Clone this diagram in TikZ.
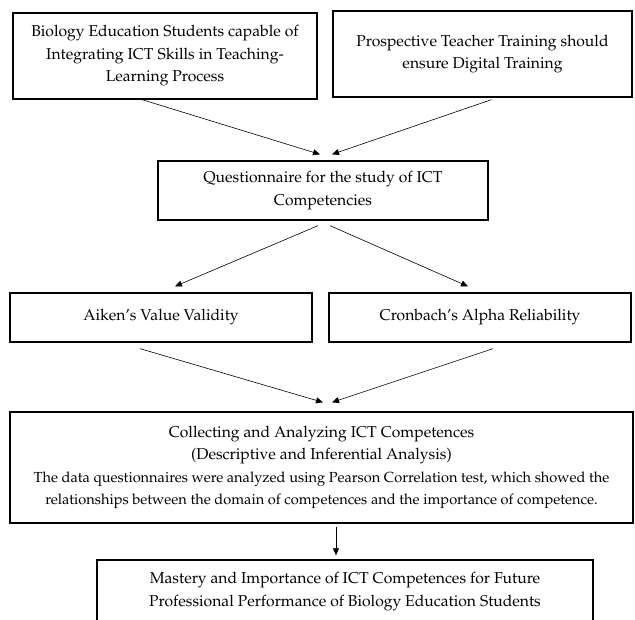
\documentclass[tikz,border=0pt]{standalone}
\usepackage[T1]{fontenc}
\usepackage{mathpazo}
\usetikzlibrary{positioning, arrows.meta, calc}

\begin{document}
\begin{tikzpicture}[x=1pt, y=-1pt,
    stage/.style={rectangle, draw, line width=1.3pt, align=center, inner sep=0pt,
        font=\fontsize{15.7}{22.5}\selectfont},
    link/.style={-{Triangle[length=7pt, width=6pt]}, line width=0.6pt}]
    \useasboundingbox (0,0) rectangle (635,620);

    \node (students) [stage, minimum width=304pt, minimum height=86pt] at (165,56)
        {Biology Education Students capable of\\Integrating ICT Skills in Teaching-\\Learning Process};
    \node (training) [stage, minimum width=299pt, minimum height=86pt] at (482.5,54)
        {Prospective Teacher Training should\\ensure Digital Training};
    \node (survey) [stage, minimum width=330pt, minimum height=59pt] at (323,190.5)
        {Questionnaire for the study of ICT\\Competencies};
    \node (validity) [stage, minimum width=302pt, minimum height=49pt] at (161,317.5)
        {Aiken's Value Validity};
    \node (reliability) [stage, minimum width=302pt, minimum height=49pt] at (480,317.5)
        {Cronbach's Alpha Reliability};
    \node (analysis) [stage, minimum width=623pt, minimum height=111pt] at (321.5,467.5)
        {Collecting and Analyzing ICT Competences\\(Descriptive and Inferential Analysis)\\
         {\fontsize{14.6}{22.5}\selectfont The data questionnaires were analyzed using Pearson Correlation test, which showed the}\\
         {\fontsize{14.6}{22.5}\selectfont relationships between the domain of competences and the importance of competence.}};
    \node (mastery) [stage, minimum width=496pt, minimum height=63pt] at (345,591.5)
        {Mastery and Importance of ICT Competences for Future\\Professional Performance of Biology Education Students};

    \draw[link] ([xshift=-23pt]students.south) -- ([xshift=-3pt, yshift=6pt]survey.north);
    \draw[link] ([xshift=9pt]training.south |- students.south) -- ([xshift=9pt, yshift=6pt]survey.north);
    \draw[link] ([xshift=-5pt, yshift=-5pt]survey.south) -- ([xshift=14pt, yshift=6pt]validity.north);
    \draw[link] ([xshift=7pt, yshift=-5pt]survey.south) -- ([xshift=-12pt, yshift=6pt]reliability.north);
    \draw[link] ([xshift=-21pt, yshift=-6pt]validity.south) -- ([xshift=1.5pt, yshift=9pt]analysis.north);
    \draw[link] ([xshift=13pt, yshift=-6pt]reliability.south) -- ([xshift=10.5pt, yshift=9pt]analysis.north);
    \draw[link] ([xshift=14.5pt, yshift=-3pt]analysis.south) -- ([xshift=-9pt, yshift=4pt]mastery.north);
\end{tikzpicture}
\end{document}
